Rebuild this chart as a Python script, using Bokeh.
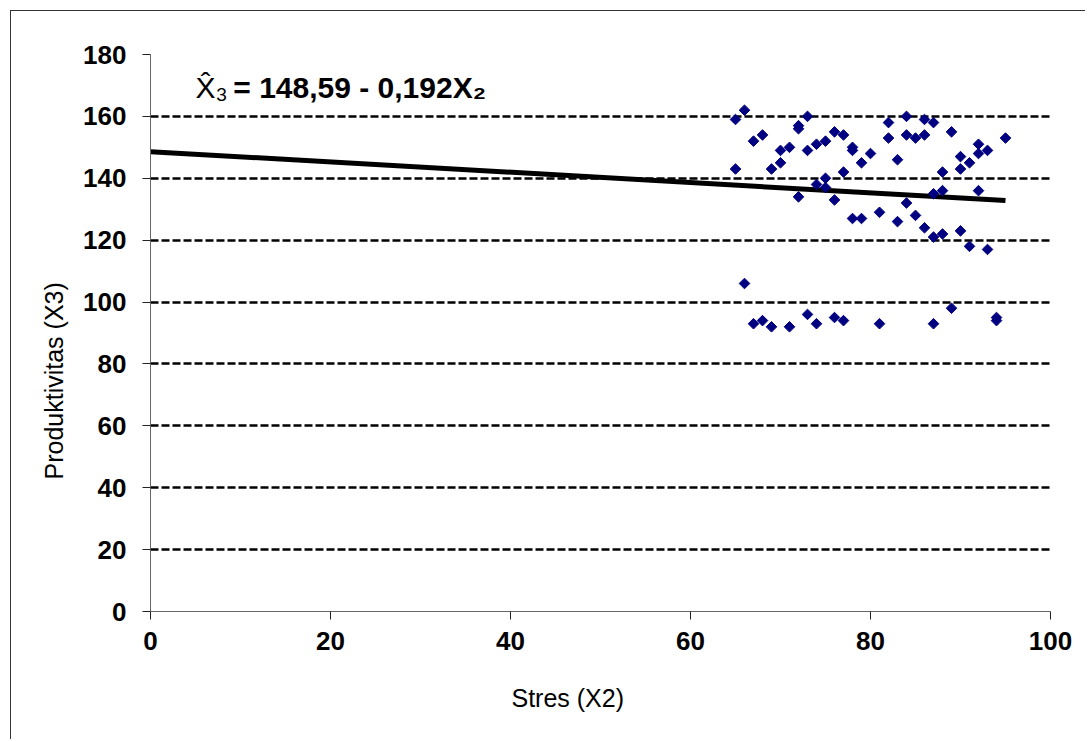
import math
from bokeh.plotting import figure
from bokeh.models import Range1d, FixedTicker, Label, Title
from bokeh.embed import file_html
from bokeh.resources import INLINE

# Scatter data: Stres (X2) vs Produktivitas (X3)
stres = [65, 65, 66, 66, 67, 67, 68, 68, 69, 69,
         70, 70, 71, 71, 72, 72, 72, 73, 73, 73,
         74, 74, 74, 75, 75, 75, 76, 76, 76, 77,
         77, 77, 78, 78, 78, 79, 79, 80, 81, 81,
         82, 82, 83, 83, 84, 84, 84, 85, 85, 86,
         86, 86, 87, 87, 87, 87, 88, 88, 88, 89,
         89, 90, 90, 90, 91, 91, 92, 92, 92, 93,
         93, 94, 94, 95]
produktivitas = [159, 143, 162, 106, 152, 93, 154, 94, 143, 92,
                 149, 145, 150, 92, 157, 156, 134, 160, 149, 96,
                 151, 138, 93, 152, 140, 137, 155, 133, 95, 154,
                 142, 94, 150, 149, 127, 145, 127, 148, 129, 93,
                 158, 153, 146, 126, 160, 154, 132, 153, 128, 159,
                 154, 124, 158, 135, 121, 93, 142, 136, 122, 155,
                 98, 147, 143, 123, 145, 118, 151, 148, 136, 149,
                 117, 95, 94, 153]

# Trend line as drawn (endpoints)
trend_x = [0, 95]
trend_y = [148.6, 132.8]

x_ticks = [0, 20, 40, 60, 80, 100]
y_ticks = [0, 20, 40, 60, 80, 100, 120, 140, 160, 180]
grid_ticks = [20, 40, 60, 80, 100, 120, 140, 160, 180]

FONT = "Liberation Sans"

p = figure(width=1075, height=729, output_backend="svg", toolbar_location=None,
           x_range=Range1d(0, 100), y_range=Range1d(0, 180),
           min_border_left=139, min_border_right=36, min_border_top=43, min_border_bottom=128,
           styles={"margin-left": "10px", "margin-top": "10px",
                   "border-left": "1px solid #333", "border-top": "1px solid #333"})
p.outline_line_color = None
p.background_fill_color = "white"
p.border_fill_color = "white"

# grids
p.xgrid.visible = False
p.ygrid.ticker = FixedTicker(ticks=grid_ticks)
p.ygrid.grid_line_color = "black"
p.ygrid.grid_line_width = 2.5
p.ygrid.grid_line_dash = "8 3"

# axes
for ax, ticks in ((p.xaxis, x_ticks), (p.yaxis, y_ticks)):
    ax.ticker = FixedTicker(ticks=ticks)
    ax.minor_tick_line_color = None
    ax.major_tick_in = 0
    ax.major_tick_out = 8
    ax.major_tick_line_color = "#222222"
    ax.axis_line_color = "#666666"
    ax.axis_line_width = 1
    ax.major_label_text_font = FONT
    ax.major_label_text_font_style = "bold"
    ax.major_label_text_font_size = "26px"
    ax.major_label_text_color = "black"
p.xaxis.major_label_standoff = 12
p.yaxis.major_label_standoff = 16

# axis titles (as side titles so they can be placed along the axis)
p.add_layout(Title(text="Produktivitas (X3)", align="left", offset=132, standoff=26,
                   text_font=FONT, text_font_style="normal", text_font_size="25px",
                   text_color="black"), "left")
p.add_layout(Title(text="Stres (X2)", align="left", offset=361, standoff=58,
                   text_font=FONT, text_font_style="normal", text_font_size="25px",
                   text_color="black"), "below")

# trend line
p.line(trend_x, trend_y, line_color="black", line_width=5)

# scatter points (diamonds)
p.scatter(stres, produktivitas, marker="square", angle=math.pi / 4, size=7.5,
          fill_color="#000080", line_color="#000080")

# equation
p.add_layout(Label(x=5.0, y=169.4, text="X\u0302\u2083", text_font=FONT,
                   text_font_size="30px", text_color="black",
                   text_baseline="alphabetic", text_align="left"))
p.add_layout(Label(x=9.2, y=169.4, text="= 148,59 - 0,192X\u2082", text_font=FONT,
                   text_font_size="30px", text_font_style="bold", text_color="black",
                   text_baseline="alphabetic", text_align="left"))

open("out.html", "w").write(file_html(p, INLINE))
